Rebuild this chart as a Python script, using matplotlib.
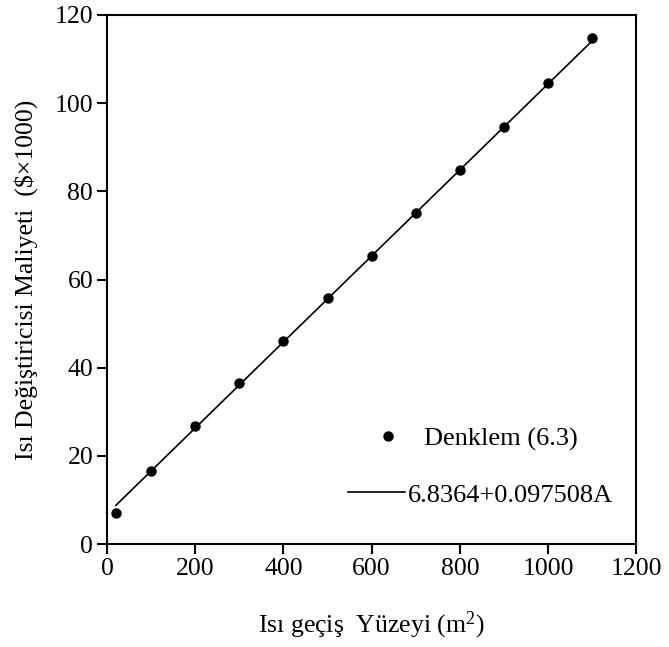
import matplotlib
matplotlib.use("Agg")
import matplotlib.pyplot as plt
from matplotlib.lines import Line2D
import numpy as np

plt.rcParams["font.family"] = ["Liberation Serif", "DejaVu Serif"]
plt.rcParams["mathtext.fontset"] = "custom"
plt.rcParams["mathtext.rm"] = "Liberation Serif"
plt.rcParams["mathtext.it"] = "Liberation Serif:italic"

# --- veri ---
area = [20, 100, 200, 300, 400, 500, 600, 700, 800, 900, 1000, 1100]
cost = [7.0, 16.6, 26.8, 36.5, 46.0, 55.7, 65.4, 75.0, 84.8, 94.6, 104.6, 114.7]
fit_a = 6.8364
fit_b = 0.097508
fit_x = [20, 1100]

fig = plt.figure(figsize=(6.69, 6.47), dpi=100)
ax = fig.add_axes([0.160, 0.159, 0.791, 0.818])

xx = np.array(fit_x)
ax.plot(xx, fit_a + fit_b * xx, color="black", linewidth=1.2)
ax.plot(area, cost, "o", color="black", markersize=6.5)

ax.set_xlim(0, 1200)
ax.set_ylim(0, 120)
ax.set_xticks(range(0, 1201, 200))
ax.set_yticks(range(0, 121, 20))
ax.tick_params(direction="out", length=7, width=1.5, labelsize=18.5, pad=3)
for s in ax.spines.values():
    s.set_linewidth(1.5)

ax.set_xlabel("Isı geçiş  Yüzeyi (m$^{2}$)", fontsize=18.5)
ax.set_ylabel("Isı Değiştiricisi Maliyeti  ($×1000)", fontsize=18.5)
ax.xaxis.set_label_coords(0.5, -0.123)
ax.yaxis.set_label_coords(-0.130, 0.5)

# lejant: iki ayrı kutu
h_pt = Line2D([], [], marker="o", color="black", linestyle="none", markersize=6.5)
h_ln = Line2D([], [], color="black", linewidth=1.2)
leg1 = ax.legend([h_pt], ["Denklem (6.3)"], loc="center left",
                 bbox_to_anchor=(0.481, 0.199), frameon=False, fontsize=19,
                 borderpad=0, borderaxespad=0, handlelength=2.0,
                 handletextpad=0.36)
ax.add_artist(leg1)
ax.legend([h_ln], ["6.8364+0.097508A"], loc="center left",
          bbox_to_anchor=(0.4556, 0.093), frameon=False, fontsize=19,
          borderpad=0, borderaxespad=0, handlelength=2.16,
          handletextpad=0.11)

fig.savefig("out.png", dpi=100)
